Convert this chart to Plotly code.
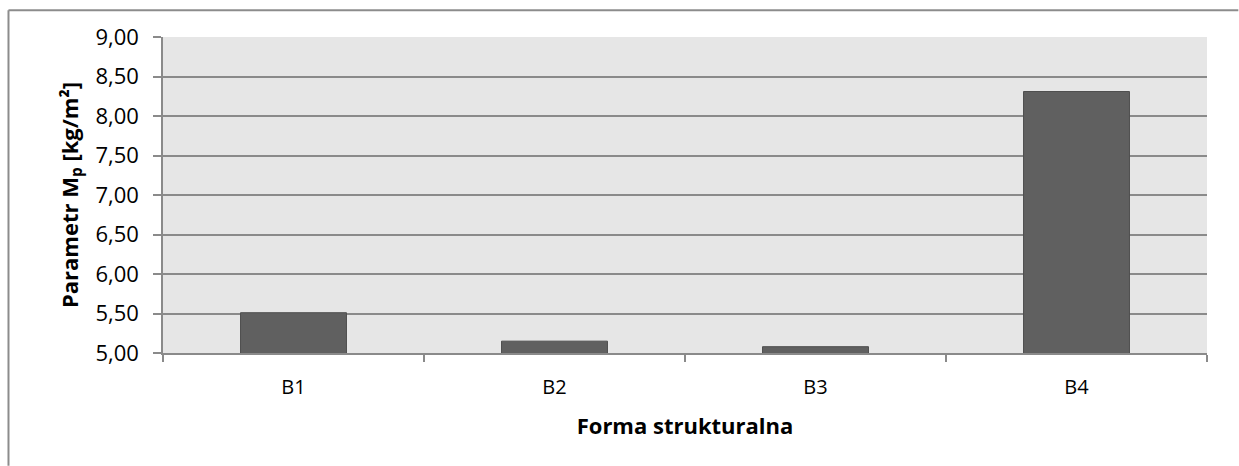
import plotly.graph_objects as go

# Parametr Mp dla poszczególnych form strukturalnych
forms = ["B1", "B2", "B3", "B4"]
mp_values = [5.51, 5.15, 5.08, 8.31]

y_ticks = [5.0, 5.5, 6.0, 6.5, 7.0, 7.5, 8.0, 8.5, 9.0]

FONT = "Open Sans"
GRID = "#8a8a8a"
FRAME = "#8c8c8c"

fig = go.Figure(
    go.Bar(
        x=forms,
        y=mp_values,
        base=0,
        marker=dict(color="#606060", line=dict(color="#4f4f4f", width=1)),
        hoverinfo="x+y",
    )
)

fig.update_layout(
    width=1239,
    height=466,
    margin=dict(l=163, r=32, t=37, b=113),
    paper_bgcolor="white",
    plot_bgcolor="#e6e6e6",
    separators=", ",
    bargap=0.594,
    showlegend=False,
    font=dict(family=FONT, size=20, color="#000000"),
    xaxis=dict(
        type="category",
        showgrid=False,
        showline=True,
        linecolor=GRID,
        linewidth=1.5,
        ticks="outside",
        tickson="boundaries",
        ticklen=7,
        tickcolor=GRID,
        tickwidth=1.5,
        tickfont=dict(family=FONT, size=20),
        ticklabelstandoff=15,
        title=dict(
            text="<b>Forma strukturalna</b>",
            font=dict(family=FONT, size=22),
            standoff=20,
        ),
    ),
    yaxis=dict(
        range=[5, 9],
        tickvals=y_ticks,
        tickformat=".2f",
        showgrid=True,
        gridcolor=GRID,
        gridwidth=1.5,
        zeroline=False,
        showline=True,
        linecolor=GRID,
        linewidth=1.5,
        ticks="outside",
        ticklen=8,
        tickcolor=GRID,
        tickwidth=1.5,
        tickfont=dict(family=FONT, size=22),
        ticklabelstandoff=10,
        title=dict(
            text="<b>Parametr M<sub>p</sub> [kg/m²]</b>",
            font=dict(family=FONT, size=22),
            standoff=11,
        ),
    ),
    shapes=[
        # chart frame: top and left edges, kept inside the figure
        dict(
            type="line", xref="paper", yref="paper",
            x0=-0.148, x1=1.03, y0=1.085, y1=1.085,
            line=dict(color=FRAME, width=2),
        ),
        dict(
            type="line", xref="paper", yref="paper",
            x0=-0.148, x1=-0.148, y0=-0.357, y1=1.085,
            line=dict(color=FRAME, width=2),
        ),
    ],
)

# keep the page free of scrollbars
fig.write_html(
    "out.html",
    post_script="document.documentElement.style.overflow='hidden';"
    "document.body.style.overflow='hidden';document.body.style.margin='0';",
)
